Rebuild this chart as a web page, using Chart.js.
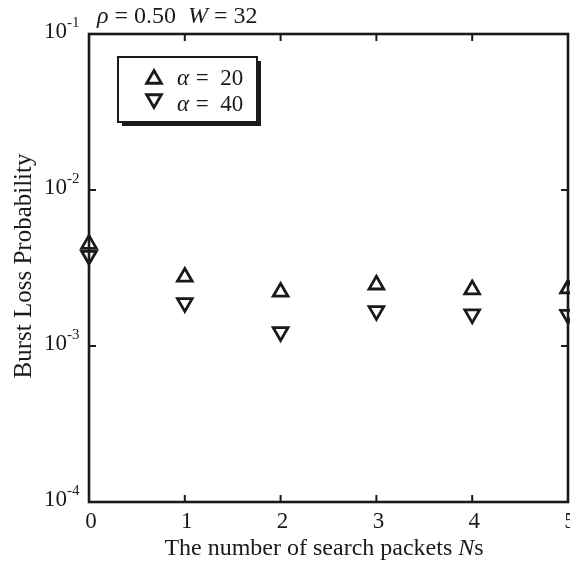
<!DOCTYPE html>
<html>
<head>
<meta charset="utf-8">
<script src="https://cdn.jsdelivr.net/npm/chart.js@4/dist/chart.umd.min.js"></script>
<style>
  html, body { margin: 0; padding: 0; background: #fff; }
  #wrap { width: 570px; height: 562px; }
</style>
</head>
<body>
<div id="wrap"><canvas id="chart" width="570" height="562"></canvas></div>
<script>
// data
const searchPackets = [0, 1, 2, 3, 4, 5];
const lossAlpha20 = [4.5e-3, 2.77e-3, 2.22e-3, 2.47e-3, 2.30e-3, 2.33e-3];
const lossAlpha40 = [3.8e-3, 1.89e-3, 1.23e-3, 1.68e-3, 1.60e-3, 1.59e-3];
const xTicks = [0, 1, 2, 3, 4, 5];
const yTicks = [1e-4, 1e-3, 1e-2, 1e-1];
const yTickExp = ['-4', '-3', '-2', '-1'];

const SERIF = "'Liberation Serif', 'Times New Roman', serif";
const INK = '#1a1a1a';

const toPoints = ys => searchPackets.map((x, i) => ({ x: x, y: ys[i] }));

// frame, inward ticks, tick labels, titles and the boxed legend
const decorations = {
  id: 'decorations',
  afterDraw(chart) {
    const ctx = chart.ctx;
    const { left, right, top, bottom } = chart.chartArea;
    const xs = chart.scales.x, ys = chart.scales.y;
    ctx.save();
    ctx.strokeStyle = INK;
    ctx.fillStyle = INK;
    ctx.lineWidth = 2.6;
    ctx.strokeRect(left, top, right - left, bottom - top);

    ctx.lineWidth = 2;
    ctx.beginPath();
    xTicks.forEach(v => {
      const px = xs.getPixelForValue(v);
      ctx.moveTo(px, bottom); ctx.lineTo(px, bottom - 7);
      ctx.moveTo(px, top); ctx.lineTo(px, top + 7);
    });
    yTicks.forEach(v => {
      const py = ys.getPixelForValue(v);
      ctx.moveTo(left, py); ctx.lineTo(left + 7, py);
      ctx.moveTo(right, py); ctx.lineTo(right - 7, py);
    });
    ctx.stroke();

    // x tick labels
    ctx.font = '23px ' + SERIF;
    ctx.textAlign = 'center';
    ctx.textBaseline = 'alphabetic';
    xTicks.forEach(v => {
      ctx.fillText(String(v), xs.getPixelForValue(v) + 2, 528);
    });

    // y tick labels 10^-n
    yTicks.forEach((v, i) => {
      const py = ys.getPixelForValue(v);
      ctx.font = '23px ' + SERIF;
      ctx.textAlign = 'right';
      ctx.fillText('10', 67, py + 4);
      ctx.font = '15px ' + SERIF;
      ctx.textAlign = 'left';
      ctx.fillText(yTickExp[i], 67, py - 7);
    });

    // title above the axes
    let x = 97;
    const parts = [['ρ', true], [' = 0.50  ', false], ['W', true], [' = 32', false]];
    ctx.textAlign = 'left';
    parts.forEach(p => {
      ctx.font = (p[1] ? 'italic ' : '') + '24px ' + SERIF;
      ctx.fillText(p[0], x, 23);
      x += ctx.measureText(p[0]).width;
    });

    // x axis title
    const a = 'The number of search packets ';
    ctx.font = '24px ' + SERIF;
    const wa = ctx.measureText(a).width;
    ctx.font = 'italic 24px ' + SERIF;
    const wn = ctx.measureText('N').width;
    ctx.font = '24px ' + SERIF;
    const ws = ctx.measureText('s').width;
    let sx = 324 - (wa + wn + ws) / 2;
    ctx.fillText(a, sx, 555);
    ctx.font = 'italic 24px ' + SERIF;
    ctx.fillText('N', sx + wa, 555);
    ctx.font = '24px ' + SERIF;
    ctx.fillText('s', sx + wa + wn, 555);

    // y axis title
    ctx.save();
    ctx.translate(31, 266);
    ctx.rotate(-Math.PI / 2);
    ctx.textAlign = 'center';
    ctx.font = '25px ' + SERIF;
    ctx.fillText('Burst Loss Probability', 0, 0);
    ctx.restore();

    // legend box with shadow
    ctx.fillStyle = INK;
    ctx.fillRect(122, 61, 139, 65);
    ctx.fillStyle = '#fff';
    ctx.fillRect(118, 57, 139, 65);
    ctx.lineWidth = 2;
    ctx.strokeStyle = INK;
    ctx.strokeRect(118, 57, 139, 65);

    const legendRows = [
      { label: '20', rotation: 0, y: 79 },
      { label: '40', rotation: 180, y: 99 }
    ];
    legendRows.forEach((r, i) => {
      ctx.lineWidth = 2.8;
      ctx.strokeStyle = INK;
      ctx.fillStyle = 'rgba(0,0,0,0)';
      Chart.helpers.drawPoint(ctx, { pointStyle: 'triangle', radius: 8.5, rotation: r.rotation, borderWidth: 2.8 }, 154, r.y);
      ctx.fillStyle = INK;
      const base = 85 + i * 26;
      ctx.font = 'italic 23px ' + SERIF;
      ctx.fillText('α', 177, base);
      const wAlpha = ctx.measureText('α').width;
      ctx.font = '23px ' + SERIF;
      ctx.fillText(' =  ' + r.label, 177 + wAlpha + 1, base);
    });
    ctx.restore();
  }
};

new Chart(document.getElementById('chart'), {
  type: 'scatter',
  data: {
    datasets: [
      {
        label: 'α = 20',
        data: toPoints(lossAlpha20),
        pointStyle: 'triangle',
        rotation: 0,
        radius: 8.5,
        borderColor: INK,
        backgroundColor: 'rgba(0,0,0,0)',
        borderWidth: 2.8,
        showLine: false,
        clip: false
      },
      {
        label: 'α = 40',
        data: toPoints(lossAlpha40),
        pointStyle: 'triangle',
        rotation: 180,
        radius: 8.5,
        borderColor: INK,
        backgroundColor: 'rgba(0,0,0,0)',
        borderWidth: 2.8,
        showLine: false,
        clip: false
      }
    ]
  },
  options: {
    responsive: false,
    animation: false,
    devicePixelRatio: 1,
    layout: { autoPadding: false, padding: { top: 34, right: 2, left: 0, bottom: 0 } },
    plugins: { legend: { display: false }, tooltip: { enabled: false } },
    scales: {
      x: {
        type: 'linear',
        min: 0,
        max: 5,
        afterBuildTicks: s => { s.ticks = xTicks.map(v => ({ value: v })); },
        afterFit: s => { s.height = 60; },
        grid: { display: false, drawTicks: false },
        border: { display: false },
        ticks: { display: false }
      },
      y: {
        type: 'logarithmic',
        min: 1e-4,
        max: 1e-1,
        afterBuildTicks: s => { s.ticks = yTicks.map(v => ({ value: v })); },
        afterFit: s => { s.width = 89; },
        grid: { display: false, drawTicks: false },
        border: { display: false },
        ticks: { display: false }
      }
    }
  },
  plugins: [decorations]
});
</script>
</body>
</html>
